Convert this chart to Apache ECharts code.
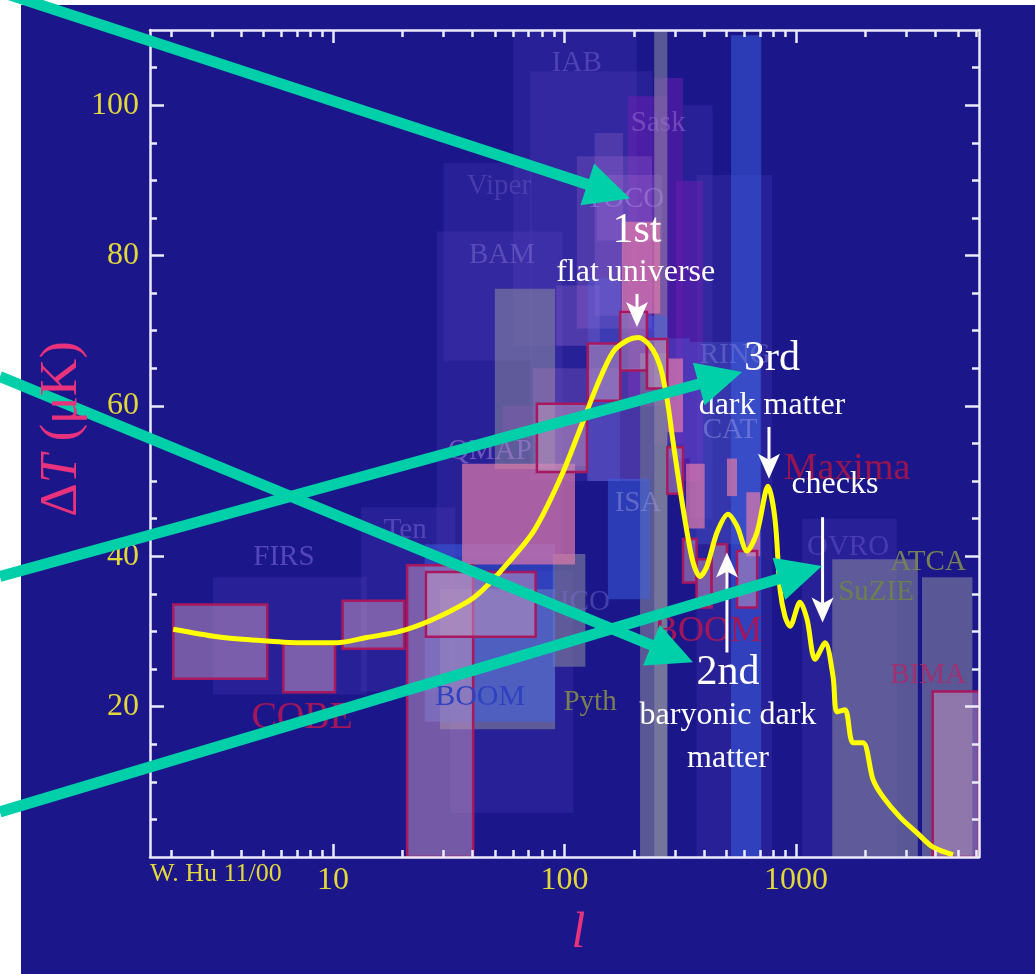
<!DOCTYPE html>
<html>
<head>
<meta charset="utf-8">
<script src="https://cdn.jsdelivr.net/npm/echarts@6/dist/echarts.min.js"></script>
<style>
html,body{margin:0;padding:0;background:#ffffff;}
#chart{width:1035px;height:974px;}
</style>
</head>
<body>
<div id="chart"></div>
<script>
// ---------- axis ranges and ticks ----------
const X_MIN = 1.62, X_MAX = 6170;
const Y_MIN = 0, Y_MAX = 110;
const xMajorTicks = [10, 100, 1000];
const xMinorTicks = [2,3,4,5,6,7,8,9,20,30,40,50,60,70,80,90,200,300,400,500,600,700,800,900,2000,3000,4000,5000,6000];
const yMajorTicks = [20, 40, 60, 80, 100];
const yMinorTicks = [5,10,15,25,30,35,45,50,55,65,70,75,85,90,95,105];

// ---------- theory curve (l, deltaT in microK) ----------
const curveL = [2.04,3.16,4.37,7.2,10.4,14.0,19.4,27.0,37.9,43.2,52.6,73.1,95.7,116.7,138.1,162.1,186.3,207.8,234,258.6,277.3,294.4,315.6,338.2,359.1,384.8,412.6,456.1,508.6,556.1,614.2,678.6,756.9,811.4,853,896,941.6,1040,1116,1209,1335,1445,1503,1628,1762,1947,2151,2376,2812,3333,3908,4764];
const curveT = [30.3,29.3,28.9,28.5,28.5,29.2,30.0,31.6,33.9,35.2,37.9,43.2,50.3,56.9,62.7,67.2,68.7,69.1,68.0,65.3,60.9,55.2,48.9,43.2,39.2,37.3,38.7,43.2,45.6,44.0,40.7,43.2,49.3,44.9,35.6,32.0,30.7,33.9,31.6,26.3,28.5,24.0,19.3,19.6,15.2,15.2,10.3,8.0,5.3,3.2,1.3,0.3];

// ---------- experiment boxes: [lMin, lMax, dTMin, dTMax] ----------
const faintBoxes = [
  [60,205,68,110],[71,240,50,104.5],[30,72,66,92.3],[28,98,40,83.2],
  [3.03,14,21.6,37.2],[13.2,33.7,22,46.5],[32,109,5.9,38],
  [1062,2724,0,45],[372,788,0,90.7],[325,436,45,100]
];
const violetBoxes = [
  [244,325,55,103.6],[188,278,60,101.2],[303,396,50,89.9],[54,76,55.6,60],[73,91,60.5,65]
];
const lavenderBoxes = [
  [135,179,72,96.3],[113,239,70.3,93.2],[138,264,82,90.7],[92,142,68,76],[125,212,50,65],[73,125,52,65]
];
const grayBoxes = [
  [244,278,0,110],[212,278,0,67],[50,91,51.6,75.6],[29,91,17,35.6],[89,123,25.3,40.3],
  [1434,3358,0,39.6],[3500,5780,0,37.2]
];
const paleBlueBoxes = [
  [348,699,41.6,68.5],[278,348,53,69],[126,174,50,77]
];
const blueBoxes = [
  [524,707,0,109.3],[24.9,91,18,41.6],[154,234,34.3,50.3],[228,278,68.5,72]
];
const pinkBoxes = [
  [36.1,111,38.9,52.3],[177,259,72.3,84.5],[335,403,43.7,52.3],[503,556,48,53],[610,700,40,48.5],[278,325,56.5,66.3]
];
const outlinedBoxes = [
  [2.04,5.2,23.7,33.6],[6.1,10.2,21.9,28.3],[11.0,20.3,27.7,34.1],[20.9,40.3,-2,38.8],
  [25.2,75,29.3,37.9],[76,125,51.2,60.3],[126,174,60.7,68.3],[174,227,64.7,72.5],
  [227,278,62.3,68.9],[278,325,48.3,54.5],[325,372,36.5,42.3],[372,432,33.2,39.6],
  [432,503,35,41.6],[556,679,33.2,40.7],[3892,7000,-2,22]
];

// ---------- experiment labels ----------
const expNames = ['IAB','Sask','Viper','TOCO','BAM','QMAP','RING','CAT','ISA','Ten','FIRS','COBE','BOOM','Pyth','ICO','BOOM','Maxima','OVRO','ATCA','SuZIE','BIMA'];
const expL = [113,254,52.1,182.5,53.7,47.6,546,519,207.7,20.5,6.14,7.35,43.2,128.9,122.6,417,1660,1677,3715,2216,3715];
const expT = [105.6,97.6,89.2,87.5,80,54,66.7,56.8,47.1,43.5,39.9,18.5,21.3,20.5,33.9,30,51.6,41.2,39.2,35.2,24.1];
const expSize = [29,29,29,29,29,29,29,29,29,29,29,38,30,29,29,36,38,29,29,29,29];
const expColor = ['rgba(120,100,210,0.5)','rgba(150,110,210,0.55)','rgba(110,90,200,0.45)','rgba(170,140,230,0.5)','rgba(130,110,210,0.5)','rgba(170,130,220,0.55)','rgba(130,130,220,0.45)','rgba(150,150,230,0.5)','rgba(150,150,220,0.5)','rgba(120,100,210,0.55)','rgba(110,90,210,0.7)','#a3175a','#3040c0','#7a8050','rgba(120,110,210,0.45)','#a3175a','#9a1450','rgba(100,80,200,0.55)','#788058','#6a8050','#a03070'];

// ---------- annotations ----------
const noteText = ['1st','flat universe','3rd','dark matter','checks','2nd','baryonic dark','matter'];
const noteL = [205.6,203,787,787,1472,508,508,508];
const noteT = [83.3,77.7,66.3,60.1,49.5,24.5,18.8,13.1];
const noteSize = [42,32,42,32,32,42,32,32];

const whiteArrowL = [205.6,764,1302,503];
const whiteArrowFrom = [74.9,57.2,45.2,27.2];
const whiteArrowTo = [70.5,50.3,31.2,40.5];

const tealFromL = [0.364,0.364,0.364,0.364];
const tealFromT = [115.1,63.9,37.3,6.0];
const tealToL = [191.9,359,585,1294];
const tealToT = [87.6,25.9,64.5,38.7];

// ---------- styles ----------
const BG = '#1b178b';
const AXIS = '#ecebfa';
const YEL = '#e3d83a';
const PINK = '#e8327c';
const TEAL = '#00d0aa';
const SERIF = '"Liberation Serif", "DejaVu Serif", serif';

function xAx(pos, ticks, len, withLabel, extra) {
  return Object.assign({
    type: 'log', logBase: 10, min: X_MIN, max: X_MAX, position: pos, gridIndex: 0, z: 4.5,
    axisLine: {show: withLabel !== null, onZero: false, lineStyle: {color: AXIS, width: 2.5}},
    axisTick: {show: true, inside: true, length: len, customValues: ticks, lineStyle: {color: AXIS, width: 2.5}},
    axisLabel: withLabel ? {show: true, customValues: ticks, color: YEL, fontFamily: SERIF, fontSize: 32, margin: 8,
      formatter: v => String(Math.round(v))} : {show: false},
    splitLine: {show: false}, minorTick: {show: false}, minorSplitLine: {show: false}
  }, extra || {});
}
function yAx(pos, ticks, len, withLabel, extra) {
  return Object.assign({
    type: 'value', min: Y_MIN, max: Y_MAX, position: pos, gridIndex: 0, z: 4.5,
    axisLine: {show: withLabel !== null, onZero: false, lineStyle: {color: AXIS, width: 2.5}},
    axisTick: {show: true, inside: true, length: len, customValues: ticks, lineStyle: {color: AXIS, width: 2.5}},
    axisLabel: withLabel ? {show: true, customValues: ticks, color: YEL, fontFamily: SERIF, fontSize: 32, margin: 11,
      formatter: v => String(Math.round(v))} : {show: false},
    splitLine: {show: false}, minorTick: {show: false}, minorSplitLine: {show: false}
  }, extra || {});
}

function boxSeries(boxes, fill, stroke, z) {
  return {
    type: 'custom', xAxisIndex: 0, yAxisIndex: 0, z: z, silent: true, animation: false,
    data: boxes, encode: {x: [0, 1], y: [2, 3]},
    renderItem: function (params, api) {
      const a = api.coord([api.value(0), api.value(3)]);
      const b = api.coord([api.value(1), api.value(2)]);
      const cs = params.coordSys;
      const r = echarts.graphic.clipRectByRect(
        {x: a[0], y: a[1], width: b[0] - a[0], height: b[1] - a[1]},
        {x: cs.x, y: cs.y, width: cs.width, height: cs.height});
      if (!r) return;
      return {type: 'rect', shape: r, style: stroke ? {fill: fill, stroke: stroke, lineWidth: 2.5} : {fill: fill}};
    }
  };
}

const series = [
  boxSeries(faintBoxes, 'rgba(120,90,220,0.14)', null, 1),
  boxSeries(violetBoxes, 'rgba(110,30,180,0.5)', null, 1.2),
  boxSeries(lavenderBoxes, 'rgba(170,115,215,0.24)', null, 1.4),
  boxSeries(grayBoxes, 'rgba(140,140,160,0.55)', null, 1.6),
  boxSeries(paleBlueBoxes, 'rgba(90,110,230,0.28)', null, 1.7),
  boxSeries(blueBoxes, 'rgba(60,100,230,0.48)', null, 1.8),
  boxSeries(pinkBoxes, 'rgba(230,125,170,0.68)', null, 2),
  boxSeries(outlinedBoxes, 'rgba(190,145,190,0.55)', '#a8185e', 2.2),
  {
    type: 'custom', z: 2.5, silent: true, animation: false,
    data: expNames.map((n, i) => [expL[i], expT[i], i]), encode: {x: 0, y: 1},
    renderItem: function (params, api) {
      const i = api.value(2);
      const p = api.coord([api.value(0), api.value(1)]);
      return {type: 'text', x: p[0], y: p[1], style: {text: expNames[i], fill: expColor[i],
        font: expSize[i] + 'px ' + SERIF, align: 'center', verticalAlign: 'middle'}};
    }
  },
  {
    type: 'line', data: curveL.map((l, i) => [l, curveT[i]]), symbol: 'none', showSymbol: false,
    smooth: 0.3, clip: true, silent: true, animation: false, z: 3,
    lineStyle: {color: '#ffff00', width: 5}
  },
  {
    type: 'custom', z: 4, silent: true, animation: false,
    data: noteText.map((n, i) => [noteL[i], noteT[i], i]), encode: {x: 0, y: 1},
    renderItem: function (params, api) {
      const i = api.value(2);
      const p = api.coord([api.value(0), api.value(1)]);
      return {type: 'text', x: p[0], y: p[1], style: {text: noteText[i], fill: '#ffffff',
        font: noteSize[i] + 'px ' + SERIF, align: 'center', verticalAlign: 'middle'}};
    }
  },
  {
    type: 'custom', z: 4, silent: true, animation: false,
    data: whiteArrowL.map((l, i) => [l, whiteArrowFrom[i], whiteArrowTo[i]]), encode: {x: 0, y: [1, 2]},
    renderItem: function (params, api) {
      const p0 = api.coord([api.value(0), api.value(1)]);
      const p1 = api.coord([api.value(0), api.value(2)]);
      const dir = p1[1] > p0[1] ? 1 : -1;
      const H = 21, W = 11;
      const by = p1[1] - dir * H;
      return {type: 'group', children: [
        {type: 'line', shape: {x1: p0[0], y1: p0[1], x2: p1[0], y2: by + dir * 2}, style: {stroke: '#ffffff', lineWidth: 3}},
        {type: 'polygon', shape: {points: [[p1[0], p1[1]], [p1[0] - W, by - dir * 4], [p1[0], by + dir * 2], [p1[0] + W, by - dir * 4]]}, style: {fill: '#ffffff'}}
      ]};
    }
  },
  {
    type: 'custom', z: 5, silent: true, animation: false,
    data: tealFromL.map((l, i) => [l, tealFromT[i], tealToL[i], tealToT[i]]), encode: {x: [0, 2], y: [1, 3]},
    renderItem: function (params, api) {
      const p0 = api.coord([api.value(0), api.value(1)]);
      const p1 = api.coord([api.value(2), api.value(3)]);
      const dx = p1[0] - p0[0], dy = p1[1] - p0[1], len = Math.hypot(dx, dy);
      const ux = dx / len, uy = dy / len;
      const H = 45, W = 22;
      const bx = p1[0] - ux * H, by = p1[1] - uy * H;
      return {type: 'group', children: [
        {type: 'line', shape: {x1: p0[0], y1: p0[1], x2: bx + ux * 3, y2: by + uy * 3}, style: {stroke: TEAL, lineWidth: 11}},
        {type: 'polygon', shape: {points: [[p1[0], p1[1]], [bx - uy * W, by + ux * W], [bx + uy * W, by - ux * W]]}, style: {fill: TEAL}}
      ]};
    }
  }
];

const option = {
  backgroundColor: '#ffffff',
  animation: false,
  textStyle: {fontFamily: SERIF},
  graphic: {
    elements: [
      {type: 'rect', z: -10, silent: true, shape: {x: 21, y: 5, width: 1014, height: 969}, style: {fill: BG}},
      {type: 'text', z: 10, silent: true, x: 150, y: 874, style: {text: 'W. Hu 11/00', fill: YEL, font: '26px ' + SERIF, verticalAlign: 'middle'}},
      {type: 'text', z: 10, silent: true, x: 62, y: 429, rotation: Math.PI / 2,
        style: {text: '{a|Δ}{b|T}{a| (μK)}', align: 'center', verticalAlign: 'middle',
          rich: {
            a: {fill: PINK, fontFamily: SERIF, fontSize: 52},
            b: {fill: PINK, fontFamily: SERIF, fontSize: 52, fontStyle: 'italic'}
          }}}
    ]
  },
  grid: {left: 150, top: 30, width: 829, height: 827, containLabel: false, outerBoundsMode: 'none'},
  xAxis: [
    xAx('bottom', xMajorTicks, 13, true, {
      name: 'l', nameLocation: 'middle', nameGap: 52,
      nameTextStyle: {color: PINK, fontFamily: SERIF, fontSize: 50, fontStyle: 'italic', padding: [0, 0, 0, 28]}
    }),
    xAx('bottom', xMinorTicks, 7, null),
    xAx('top', xMajorTicks, 13, false),
    xAx('top', xMinorTicks, 7, null)
  ],
  yAxis: [
    yAx('left', yMajorTicks, 14, true),
    yAx('left', yMinorTicks, 7, null),
    yAx('right', yMajorTicks, 14, false),
    yAx('right', yMinorTicks, 7, null)
  ],
  series: series
};

const chart = echarts.init(document.getElementById('chart'), null, {renderer: 'canvas'});
chart.setOption(option);
</script>
</body>
</html>
